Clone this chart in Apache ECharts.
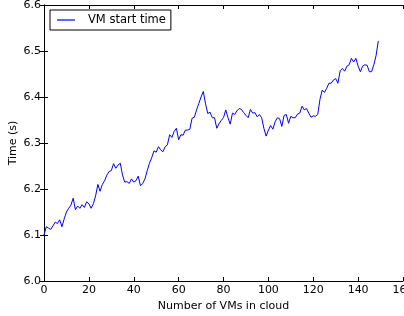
<!DOCTYPE html>
<html>
<head>
<meta charset="utf-8">
<script src="https://cdn.jsdelivr.net/npm/echarts@6/dist/echarts.min.js"></script>
<style>
  html, body { margin: 0; padding: 0; background: #fff; }
  #chart { width: 404px; height: 316px; }
</style>
</head>
<body>
<div id="chart"></div>
<script>
// start time of a VM against the number of VMs already in the cloud
var vmCount = [];
for (var i = 0; i < 150; i++) vmCount.push(i);
var startTime = [
  6.100, 6.118, 6.115, 6.112, 6.120, 6.128, 6.125, 6.133, 6.118, 6.135,
  6.150, 6.158, 6.165, 6.180, 6.155, 6.163, 6.158, 6.166, 6.160, 6.172,
  6.168, 6.158, 6.168, 6.185, 6.210, 6.195, 6.210, 6.218, 6.230, 6.238,
  6.240, 6.255, 6.245, 6.252, 6.256, 6.230, 6.215, 6.216, 6.212, 6.222,
  6.215, 6.218, 6.228, 6.207, 6.212, 6.222, 6.240, 6.256, 6.268, 6.283,
  6.280, 6.292, 6.285, 6.281, 6.292, 6.296, 6.318, 6.312, 6.325, 6.332,
  6.307, 6.318, 6.317, 6.328, 6.328, 6.330, 6.354, 6.356, 6.372, 6.386,
  6.400, 6.412, 6.385, 6.364, 6.367, 6.355, 6.355, 6.332, 6.342, 6.349,
  6.355, 6.372, 6.355, 6.341, 6.365, 6.362, 6.370, 6.375, 6.373, 6.366,
  6.360, 6.355, 6.373, 6.365, 6.366, 6.357, 6.362, 6.355, 6.332, 6.315,
  6.328, 6.338, 6.330, 6.346, 6.355, 6.353, 6.336, 6.360, 6.362, 6.343,
  6.358, 6.355, 6.355, 6.363, 6.365, 6.380, 6.372, 6.375, 6.365, 6.356,
  6.359, 6.358, 6.362, 6.395, 6.415, 6.410, 6.419, 6.430, 6.430, 6.437,
  6.440, 6.430, 6.457, 6.462, 6.456, 6.467, 6.470, 6.484, 6.476, 6.484,
  6.467, 6.455, 6.467, 6.470, 6.469, 6.455, 6.455, 6.470, 6.490, 6.522
];

var pts = vmCount.map(function (x, i) { return [x, startTime[i]]; });

var myChart = echarts.init(document.getElementById("chart"));
var font = "DejaVu Sans";
var tick = { show: true, inside: true, length: 4, lineStyle: { color: "#000" } };
var frame = { show: true, lineStyle: { color: "#000", width: 1 } };

var option = {
  animation: false,
  textStyle: { fontFamily: font },
  grid: { left: 44, right: 1, top: 5, bottom: 35, containLabel: false, outerBoundsMode: "none" },
  legend: {
    data: ["VM start time"],
    left: 50,
    top: 10,
    orient: "vertical",
    padding: [4, 5, 4, 7],
    borderColor: "#000",
    borderWidth: 1,
    borderRadius: 0,
    icon: "rect",
    itemWidth: 18,
    itemHeight: 1.2,
    textStyle: { fontFamily: font, fontSize: 11.5, color: "#000", padding: [0, 0, 0, 8] }
  },
  xAxis: [
    {
      type: "value", min: 0, max: 160, interval: 20,
      name: "Number of VMs in cloud", nameLocation: "middle", nameGap: 20,
      nameMoveOverlap: false,
      nameTextStyle: { fontFamily: font, fontSize: 11, color: "#000" },
      axisLine: frame, axisTick: tick, splitLine: { show: false },
      axisLabel: { fontFamily: font, fontSize: 11, color: "#000", margin: 4, showMaxLabel: true }
    },
    {
      type: "value", position: "top", min: 0, max: 160, interval: 20,
      axisLine: frame, axisTick: tick, axisLabel: { show: false }, splitLine: { show: false }
    }
  ],
  yAxis: [
    {
      type: "value", min: 6.0, max: 6.6, interval: 0.1,
      name: "Time (s)", nameLocation: "middle", nameGap: 25, nameRotate: 90,
      nameMoveOverlap: false,
      nameTextStyle: { fontFamily: font, fontSize: 11, color: "#000" },
      axisLine: frame, axisTick: tick, splitLine: { show: false },
      axisLabel: {
        fontFamily: font, fontSize: 11, color: "#000", margin: 3,
        formatter: function (v) { return v.toFixed(1); }
      }
    },
    {
      type: "value", position: "right", min: 6.0, max: 6.6, interval: 0.1,
      axisLine: frame, axisTick: tick, axisLabel: { show: false }, splitLine: { show: false }
    }
  ],
  series: [
    {
      name: "VM start time",
      type: "line",
      data: pts,
      showSymbol: false,
      symbol: "none",
      color: "#0000ff",
      lineStyle: { color: "#0000ff", width: 1 }
    }
  ]
};
myChart.setOption(option);
</script>
</body>
</html>
